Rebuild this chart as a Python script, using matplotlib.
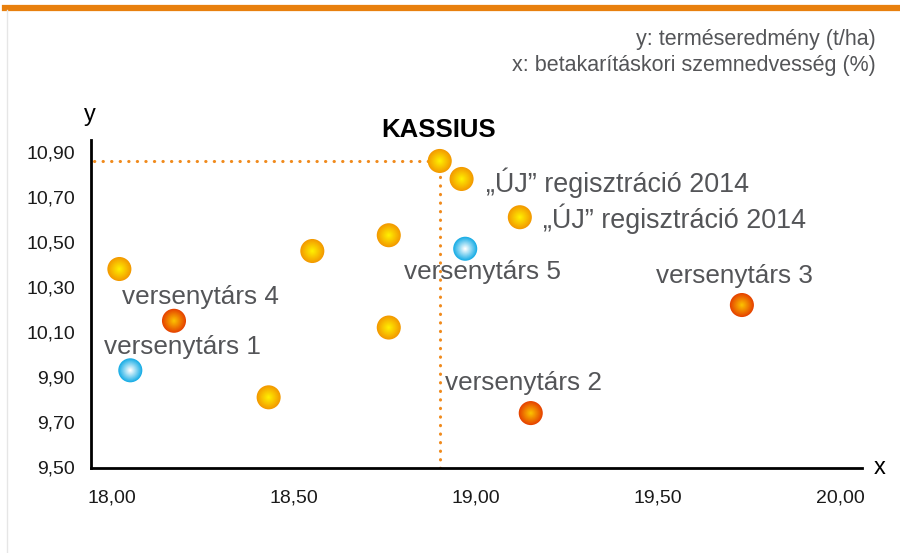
import matplotlib
matplotlib.use("Agg")
import matplotlib.pyplot as plt
import numpy as np
from matplotlib.colors import to_rgb

plt.rcParams['font.family'] = ['Liberation Sans', 'DejaVu Sans']

# Data: szemnedvesség (x) and termés (y)
kassius = (18.90, 10.86)
uj_x = [18.96, 19.12]
uj_y = [10.78, 10.61]
other_x = [18.76, 18.55, 18.02, 18.76, 18.43]
other_y = [10.53, 10.46, 10.38, 10.12, 9.81]
comp_red_x = [18.17, 19.15, 19.73]
comp_red_y = [10.15, 9.74, 10.22]
comp_red_names = ["versenytárs 4", "versenytárs 2", "versenytárs 3"]
comp_blue_x = [18.05, 18.97]
comp_blue_y = [9.93, 10.47]
comp_blue_names = ["versenytárs 1", "versenytárs 5"]

x_ticks = [18.0, 18.5, 19.0, 19.5, 20.0]
y_ticks = [9.5, 9.7, 9.9, 10.1, 10.3, 10.5, 10.7, 10.9]

fig = plt.figure(figsize=(9, 5.53), dpi=100)
ax = fig.add_axes([0.1011, 0.1537, 0.8567, 0.5931])
ax.set_xlim(17.942, 20.06)
ax.set_ylim(9.496, 10.953)

# orange band on top + light frame line at left
fig.add_artist(plt.Line2D([0.006, 1.0], [0.985, 0.985], color='#E8800E', lw=4.5,
                          transform=fig.transFigure))
fig.add_artist(plt.Line2D([0.008, 0.008], [0.0, 0.982], color='#E6E6E6', lw=1,
                          transform=fig.transFigure))


def ball(xs, ys, edge, center, size=300):
    e = np.array(to_rgb(edge))
    c = np.array(to_rgb(center))
    n = 14
    for i in range(n):
        t = i / (n - 1)
        col = e * (1 - t) + c * t
        s = size * (1 - 0.93 * t) ** 2
        ax.scatter(xs, ys, s=s, color=col, edgecolors='none', zorder=5 + i * 0.01)


# dotted guide lines to KASSIUS
dot = (0, (0.1, 2.7))
ax.plot([17.95, kassius[0]], [kassius[1], kassius[1]], ls=dot, color='#F08A1C',
        lw=2.2, dash_capstyle='round', zorder=2)
ax.plot([kassius[0], kassius[0]], [9.496, kassius[1]], ls=dot, color='#F08A1C',
        lw=2.2, dash_capstyle='round', zorder=2)

orange_x = [kassius[0]] + uj_x + other_x
orange_y = [kassius[1]] + uj_y + other_y
ball(orange_x, orange_y, '#F39A00', '#FFEF00')
ball(comp_red_x, comp_red_y, '#E64400', '#FBC000')
ball(comp_blue_x, comp_blue_y, '#1AAEE6', '#FFFFFF')

gray = '#545558'
lab_fs = 18.8
ax.annotate("KASSIUS", kassius, xytext=(-1, 31), textcoords='offset pixels',
            ha='center', va='center', fontsize=18.5, fontweight='bold', color='black')
uj_offsets = [(24, -4), (23, -2)]
for x, y, off in zip(uj_x, uj_y, uj_offsets):
    ax.annotate("\u201e\u00daJ\u201d regisztráció 2014", (x, y), xytext=off,
                textcoords='offset pixels', ha='left', va='center', fontsize=19.4, color=gray)
red_offsets = [(-52, 24, 'left'), (-86, 30, 'left'), (-7, 29, 'center')]
for x, y, name, (dx, dy, ha) in zip(comp_red_x, comp_red_y, comp_red_names, red_offsets):
    ax.annotate(name, (x, y), xytext=(dx, dy), textcoords='offset pixels',
                ha=ha, va='center', fontsize=lab_fs, color=gray)
blue_offsets = [(-26, 23, 'left'), (17, -23, 'center')]
for x, y, name, (dx, dy, ha) in zip(comp_blue_x, comp_blue_y, comp_blue_names, blue_offsets):
    ax.annotate(name, (x, y), xytext=(dx, dy), textcoords='offset pixels',
                ha=ha, va='center', fontsize=lab_fs, color=gray)

# axes styling
for side in ['top', 'right']:
    ax.spines[side].set_visible(False)
for side in ['left', 'bottom']:
    ax.spines[side].set_linewidth(2)
    ax.spines[side].set_color('black')
ax.set_xticks(x_ticks)
ax.set_xticklabels([f"{v:.2f}".replace('.', ',') for v in x_ticks])
ax.set_yticks(y_ticks)
ax.set_yticklabels([f"{v:.2f}".replace('.', ',') for v in y_ticks])
ax.tick_params(axis='both', length=0, labelsize=14, labelcolor='#1a1a1a')
ax.tick_params(axis='x', pad=15.5)
ax.tick_params(axis='y', pad=11.5)

fig.text(90 / 900, 1 - 115 / 553, "y", fontsize=17, ha='center', va='center')
fig.text(880 / 900, 1 - 468 / 553, "x", fontsize=17, ha='center', va='center')
fig.text(876 / 900, 1 - 40 / 553, "y: terméseredmény (t/ha)", fontsize=15.5,
         ha='right', va='center', color=gray)
fig.text(876 / 900, 1 - 66 / 553, "x: betakarításkori szemnedvesség (%)", fontsize=15.5,
         ha='right', va='center', color=gray)

fig.savefig("out.png", dpi=100)
